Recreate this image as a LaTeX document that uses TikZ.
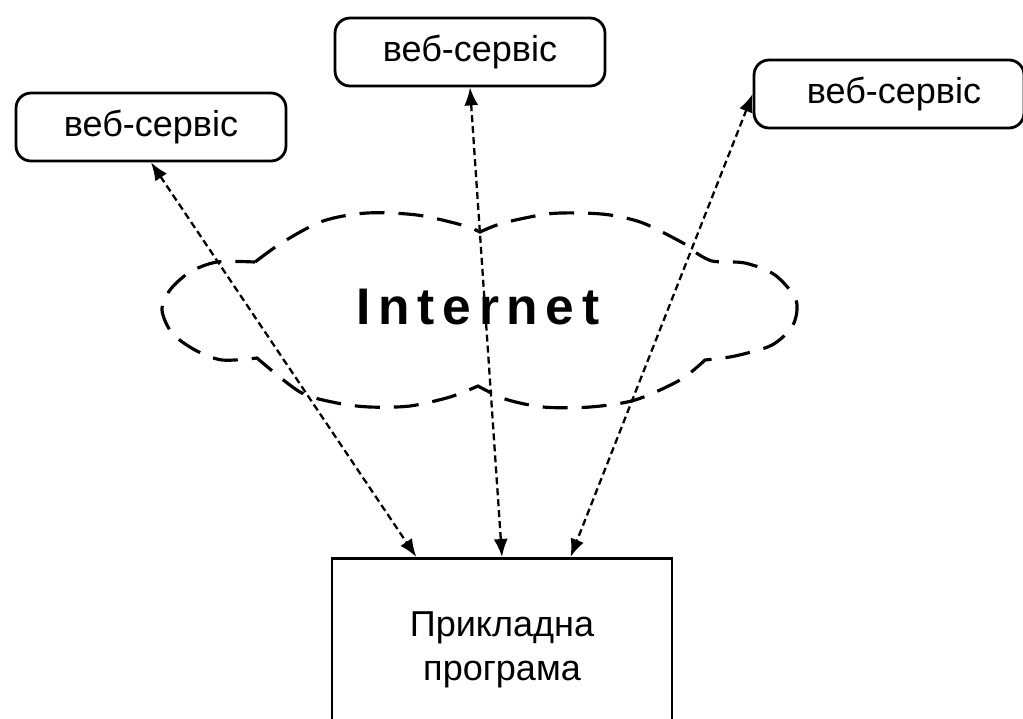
\documentclass[tikz,border=0pt]{standalone}
\usepackage{fontspec}
\setmainfont{Liberation Sans}
\newfontfamily\netfont[LetterSpace=15]{Liberation Sans}
\usetikzlibrary{arrows.meta,calc}

\begin{document}
\begin{tikzpicture}[x=0.02cm,y=-0.02cm,
    service/.style={draw,line width=1.6pt,rounded corners=0.3cm,minimum width=5.4cm,minimum height=1.36cm,
      font=\fontsize{20.5}{22}\selectfont},
    program/.style={draw,line width=1.6pt,anchor=north,minimum width=6.8cm,minimum height=3.66cm,align=center,
      font=\fontsize{20.5}{25}\selectfont},
    link/.style={line width=1.3pt,dash pattern=on 0.14cm off 0.08cm,
      {Latex[length=0.36cm,width=0.28cm]}-{Latex[length=0.36cm,width=0.28cm]}},
    cloud/.style={line width=1.8pt,dash pattern=on 0.5cm off 0.28cm}]
  \useasboundingbox (0,0) rectangle (1023,718);
  \clip (0,0) rectangle (1023,718);

  % web services and the application
  \node[service] (ws1) at (151,127) {веб-сервіс};
  \node[service] (ws2) at (470,52) {веб-сервіс};
  \node[service] (ws3) at (889,94) {\hspace*{0.2cm}веб-сервіс};
  \node[program] (app) at (502,557) {Прикладна\\програма};

  % the cloud
  \draw[cloud]
    plot[smooth] coordinates {(255,262) (283,242) (323,221) (367,213) (417,215) (462,225) (480,232)}
    -- plot[smooth] coordinates {(480,232) (503,223) (547,214) (580,213) (610,215) (643,223) (683,243) (692,250)}
    -- plot[smooth] coordinates {(692,250) (712,261) (745,263) (775,275) (796,300) (793,325) (772,345) (735,356) (705,360)}
    -- plot[smooth] coordinates {(705,360) (680,380) (635,400) (590,407) (543,407) (505,399) (478,386)}
    -- plot[smooth] coordinates {(478,386) (450,397) (410,406) (370,407) (337,403) (300,392) (257,358)}
    -- plot[smooth] coordinates {(257,358) (222,360) (195,350) (172,333) (162,310) (170,290) (190,272) (217,262) (255,262)};
  \node (net) at (478,307) {\fontsize{29.3}{30}\netfont\bfseries Internet};

  % connections
  \draw[link] (ws1.south) -- ($(app.north west)!0.25!(app.north east)$);
  \draw[link] (ws2.south) -- (app.north);
  \draw[link] (ws3.west) -- ($(app.north west)!0.7!(app.north east)$);
\end{tikzpicture}
\end{document}
